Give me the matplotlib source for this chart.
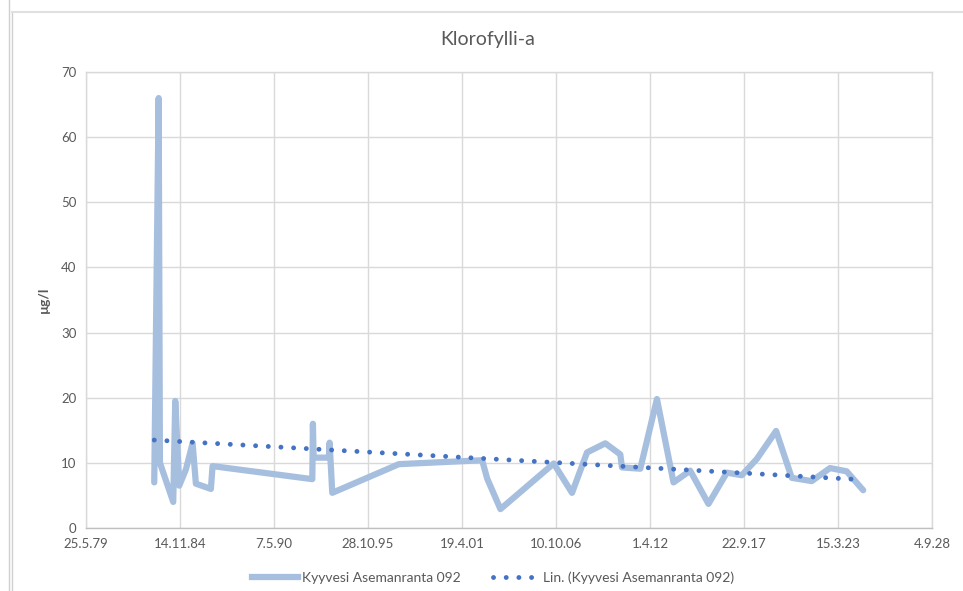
import matplotlib
matplotlib.use("Agg")
import matplotlib.pyplot as plt
import matplotlib.dates as mdates
from matplotlib.lines import Line2D
import numpy as np

# data
dates = ["1983-05-16", "1983-08-18", "1983-09-14", "1984-06-23", "1984-08-05",
         "1984-10-29", "1985-03-20", "1985-08-09", "1985-10-18", "1986-09-02",
         "1986-10-08", "1992-07-30", "1992-08-12", "1992-08-27", "1993-07-18",
         "1993-08-02", "1993-09-28", "1997-08-15", "2002-06-22", "2002-10-06",
         "2003-07-16", "2006-08-22", "2007-09-16", "2008-07-31", "2009-08-24",
         "2010-07-09", "2010-08-14", "2011-09-07", "2012-08-27", "2013-08-14",
         "2014-08-04", "2015-08-28", "2016-09-22", "2017-08-07", "2018-06-22",
         "2019-08-06", "2020-07-04", "2021-09-02", "2022-09-25", "2023-09-15",
         "2024-09-01"]
values = [7.0, 66.0, 10.0, 4.0, 19.5,
          6.5, 9.0, 13.0, 6.8, 6.0,
          9.5, 7.5, 16.0, 10.8, 10.8,
          13.1, 5.4, 9.8, 10.4, 7.6,
          2.9, 9.9, 5.4, 11.6, 13.0,
          11.3, 9.3, 9.1, 19.8, 7.0,
          8.8, 3.7, 8.5, 8.1, 10.6,
          14.9, 7.7, 7.2, 9.2, 8.7,
          5.8]
trend_dates = ["1983-05-16", "2024-09-01"]
trend_values = [13.5, 7.4]

tick_dates = ["1979-05-25", "1984-11-14", "1990-05-07", "1995-10-28", "2001-04-19",
              "2006-10-10", "2012-04-01", "2017-09-22", "2023-03-15", "2028-09-04"]
tick_labels = ["25.5.79", "14.11.84", "7.5.90", "28.10.95", "19.4.01",
               "10.10.06", "1.4.12", "22.9.17", "15.3.23", "4.9.28"]

series_name = "Kyyvesi Asemanranta 092"
title = "Klorofylli-a"
ylabel = "µg/l"

plt.rcParams["font.family"] = ["Lato", "DejaVu Sans"]
text_col = "#595959"
grid_col = "#D9D9D9"
line_col = "#A7BFDF"
trend_col = "#4472C4"
dot_style = (0, (0.01, 2.6))

x = mdates.datestr2num(dates)
xt = mdates.datestr2num(trend_dates)
ticks = mdates.datestr2num(tick_dates)

fig = plt.figure(figsize=(9.63, 5.91), dpi=100)
ax = fig.add_axes([86 / 963, 1 - 528 / 591, (932 - 86) / 963, (528 - 72) / 591])

ax.plot(x, values, color=line_col, lw=4.5, solid_joinstyle="round",
        solid_capstyle="round", zorder=3)
ax.plot(xt, trend_values, color=trend_col, lw=3.5, linestyle=dot_style,
        dash_capstyle="round", zorder=4)

ax.set_xlim(ticks[0], ticks[-1])
ax.set_ylim(0, 70)
ax.set_xticks(ticks)
ax.set_xticklabels(tick_labels)
ax.set_yticks(np.arange(0, 71, 10))
ax.grid(True, color=grid_col, lw=1.0)
ax.set_axisbelow(True)
for s in ax.spines.values():
    s.set_color(grid_col)
    s.set_linewidth(1.0)
ax.spines["bottom"].set_color("#BFBFBF")
ax.tick_params(length=0, colors=text_col, labelsize=9.5, pad=7)

fig.text(488 / 963, 1 - 40 / 591, title, fontsize=14, color=text_col,
         ha="center", va="center")
ax.set_ylabel(ylabel, fontsize=10, color=text_col, fontweight="bold", labelpad=8)

handles = [Line2D([], [], color=line_col, lw=4.5),
           Line2D([], [], color=trend_col, lw=3.5, linestyle=dot_style,
                  dash_capstyle="round")]
leg = fig.legend(handles, [series_name, "Lin. (" + series_name + ")"],
                 loc="center", bbox_to_anchor=(493 / 963, 1 - 578 / 591), ncol=2,
                 frameon=False, fontsize=10, handlelength=3.3, columnspacing=2.3,
                 handletextpad=0.3)
for t in leg.get_texts():
    t.set_color(text_col)

# outer chart frame lines
fig.add_artist(Line2D([9 / 963, 9 / 963], [0, 1], transform=fig.transFigure,
                      color="#D0D0D0", lw=1))
fig.add_artist(Line2D([12 / 963, 12 / 963], [0, 1 - 12 / 591], transform=fig.transFigure,
                      color="#D0D0D0", lw=1))
fig.add_artist(Line2D([12 / 963, 1], [1 - 12 / 591, 1 - 12 / 591], transform=fig.transFigure,
                      color="#E0E0E0", lw=1.5))

fig.savefig("out.png", dpi=100)
